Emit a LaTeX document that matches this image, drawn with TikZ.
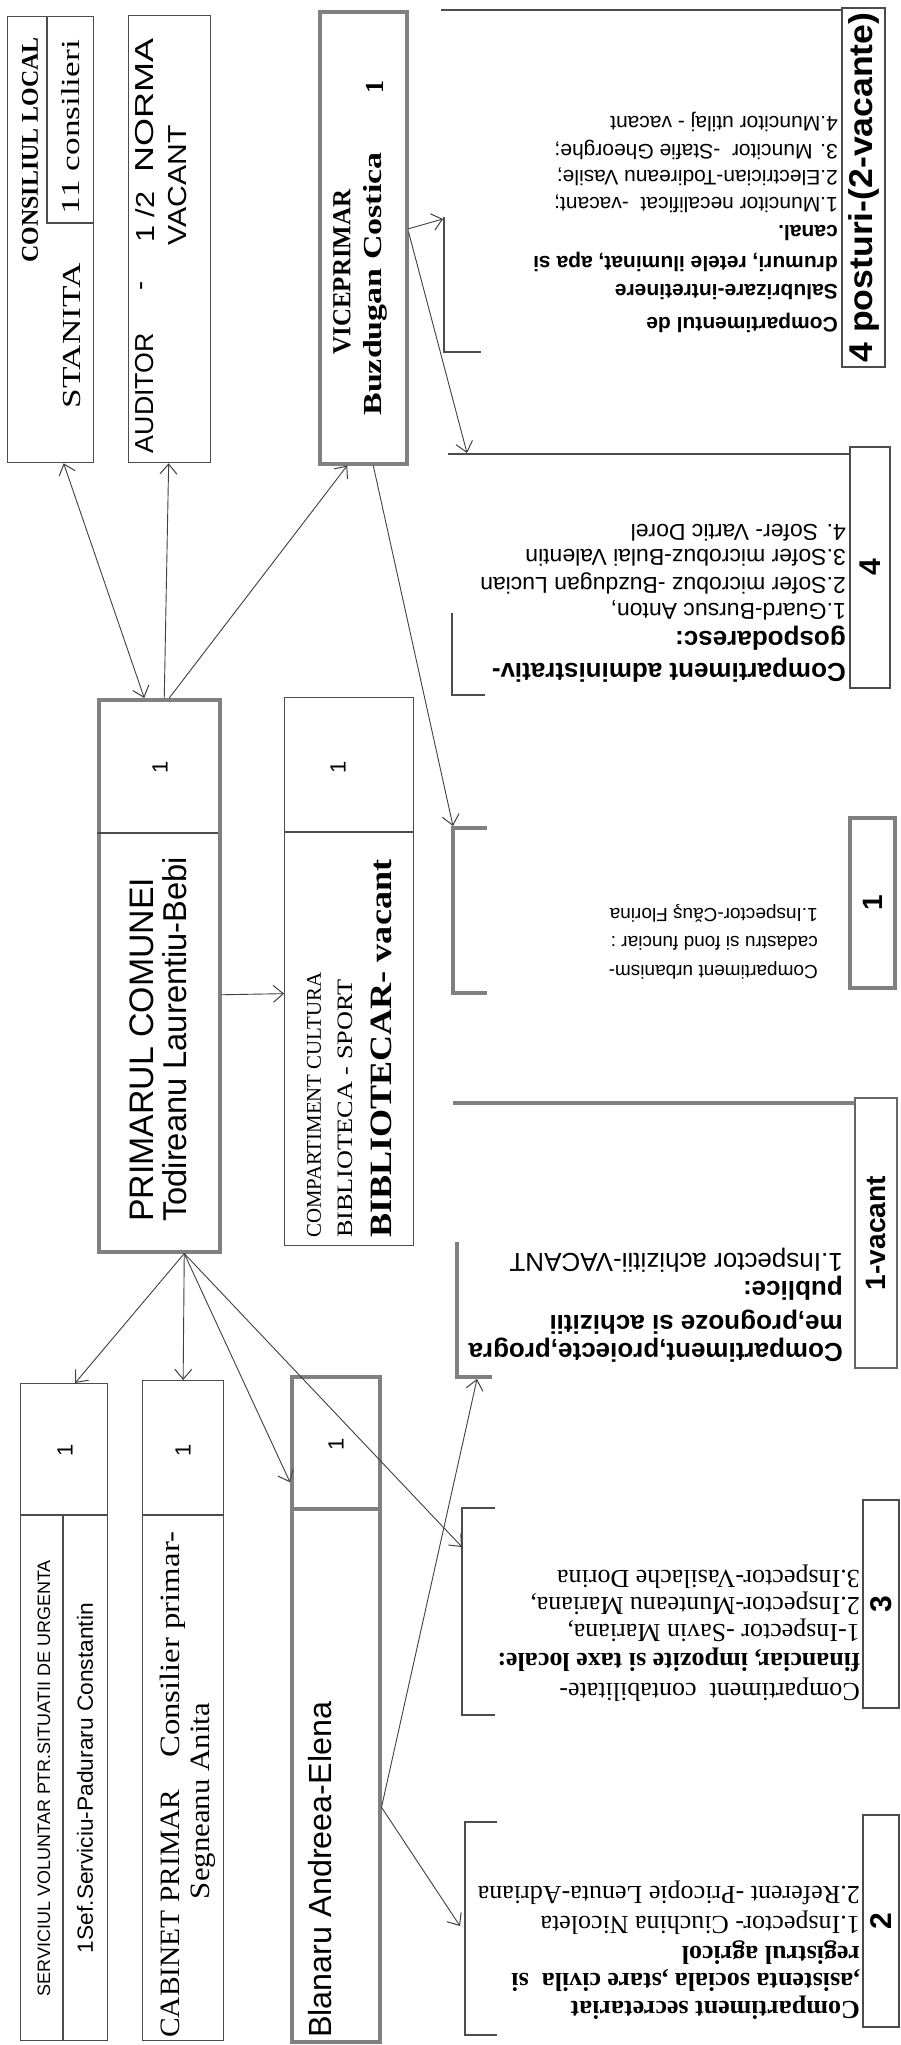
\documentclass[tikz,border=0pt]{standalone}
\usepackage{graphicx}
\usepackage{fontspec}
\setmainfont{Liberation Serif}
\setsansfont{Liberation Sans}
\usetikzlibrary{arrows.meta}
\newcommand{\fs}[1]{\fontsize{#1}{#1}\selectfont}
\newcommand{\fitlen}[2]{\resizebox{#1pt}{\height}{#2}}
\tikzset{
  vhead/.tip={Straight Barb[length=10pt,width=17pt,line width=1pt]},
  box/.style={draw=black!70, line width=1.3, anchor=north west},
  tbox/.style={box, draw=black!50, line width=3.5},
  nbox/.style={draw=black!70, line width=1.3, rotate=90, inner sep=0, font=\sffamily\bfseries\fs{30}},
  arr/.style={draw=black!75, line width=0.9, -vhead},
  brk/.style={draw=black!70, line width=1.4},
  gbrk/.style={draw=black!50, line width=3.2},
  vt/.style={rotate=90, inner sep=0},
  ut/.style={rotate=180, anchor=west, inner sep=0},
}
\begin{document}
\begin{tikzpicture}[x=1pt,y=-1pt]
\useasboundingbox[fill=white] (0,0) rectangle (900,2045);
\node[box, minimum width=86, minimum height=446] (cons) at (7,16) {};
\node[box, minimum width=82, minimum height=447] (aud) at (128,15) {};
\node[tbox, minimum width=87, minimum height=452] (vice) at (318,10) {};
\node[tbox, minimum width=121, minimum height=552] (prim) at (97,698) {};
\node[box, minimum width=129, minimum height=548] (cult) at (284,697) {};
\node[box, minimum width=87, minimum height=657] (serv) at (20,1383) {};
\node[box, minimum width=81, minimum height=660] (cab) at (142,1380) {};
\node[tbox, minimum width=88, minimum height=665] (blan) at (290,1375) {};
\draw[black!70, line width=1.3] (47,16) |- (93,223) (63,1515) -- (63,2040);
\foreach \xa/\xb/\y in {97/218/833, 284/413/832, 20/107/1515, 142/223/1515}
  \draw[black!70, line width=1.3] (\xa,\y) -- (\xb,\y);
\draw[black!50, line width=3.5] (290,1509) -- (378,1509);

\node[vt, font=\bfseries\fs{24}] (consT) at (30,150) {\fitlen{225}{CONSILIUL LOCAL}};
\node[vt, font=\fs{26}] (consS) at (72,336) {\fitlen{145}{STANITA}};
\node[vt, font=\fs{26}] (consN) at (71,127) {\fitlen{174}{11 consilieri}};
\foreach \x/\y/\l/\t [count=\i] in {145/393/120/AUDITOR, 145/286/9/-, 145/217/51/{1 /2},
  145/105/134/NORMA, 178/185/120/VACANT}
  \node[vt, font=\sffamily\fs{26}] (aud\i) at (\x,\y) {\fitlen{\l}{\t}};
\node[vt, font=\bfseries\fs{26}] (viceT) at (342,272) {\fitlen{165}{VICEPRIMAR}};
\node[vt, font=\bfseries\fs{26}] (viceN) at (375,284) {\fitlen{263}{Buzdugan Costica}};
\node[vt, font=\bfseries\fs{26}] (viceP) at (375,87) {1};

\node[vt, anchor=west, font=\sffamily\fs{34}] (primT) at (142,1222) {\fitlen{344}{PRIMARUL COMUNEI}};
\node[vt, anchor=west, font=\sffamily\fs{33}] (primN) at (175,1222) {\fitlen{365}{Todireanu Laurentiu-Bebi}};
\node[vt, anchor=west, font=\fs{21}] (cultA) at (314,1238) {\fitlen{265}{COMPARTIMENT CULTURA}};
\node[vt, anchor=west, font=\fs{22}] (cultB) at (345,1238) {\fitlen{258}{BIBLIOTECA - SPORT}};
\node[vt, anchor=west, font=\bfseries\fs{31}] (cultC) at (381,1238) {\fitlen{378}{BIBLIOTECAR- vacant}};
\node[vt, font=\sffamily\fs{18}] (servA) at (44,1778) {\fitlen{436}{SERVICIUL VOLUNTAR PTR.SITUATII DE URGENTA}};
\node[vt, font=\sffamily\fs{22}] (servB) at (85,1778) {\fitlen{350}{1Sef.Serviciu-Paduraru Constantin}};
\node[vt, anchor=west, font=\fs{28}] (cabA) at (173,2038) {\fitlen{248}{CABINET PRIMAR}\hspace{32pt}\fitlen{226}{Consilier primar-}};
\node[vt, font=\fs{28}] (cabN) at (203,1801) {\fitlen{196}{Segneanu Anita}};
\node[vt, anchor=west, font=\sffamily\fs{32}] (blanN) at (320,2038) {\fitlen{336}{Blanaru Andreea-Elena}};
\foreach \x/\y [count=\i] in {160/767, 338/767, 65/1450, 183/1450, 336/1444}
  \node[vt, font=\sffamily\fs{22}] (one\i) at (\x,\y) {1};

\node[nbox, minimum width=359, minimum height=43, font=\sffamily\bfseries\fs{33}] (nSal) at (863.5,187.5) {\fitlen{350}{4 posturi-(2-vacante)}};
\node[nbox, minimum width=241, minimum height=40] (nAdm) at (870,567.5) {4};
\node[nbox, draw=black!50, line width=3.5, minimum width=170, minimum height=45, font=\sffamily\bfseries\fs{28}] (nUrb) at (872.5,903) {1};
\node[nbox, draw=black!60, line width=2.5, minimum width=270, minimum height=42, font=\sffamily\bfseries\fs{28}] (nPro) at (876,1233) {\fitlen{114}{1-vacant}};
\node[nbox, minimum width=208, minimum height=36] (nCon) at (881,1604) {3};
\node[nbox, minimum width=212, minimum height=36] (nSec) at (881,1921) {2};

\draw[brk] (441,10) -- (842,10) (444,217) -- (444,352) -- (481,352);
\draw[brk] (448,454) -- (850,454) (452,613) -- (452,695) -- (485,695);
\draw[gbrk] (487,828) -- (453,828) -- (453,993) -- (487,993);
\draw[gbrk] (453,1103) -- (855,1103) (457,1242) -- (457,1377) -- (492,1377);
\draw[brk] (495,1508) -- (462,1508) -- (462,1715) -- (495,1715);
\draw[brk] (497,1822) -- (465,1822) -- (465,2035) -- (497,2035);

\foreach \y/\t [count=\i] in {323/\textbf{Compartimentul de}, 292/\textbf{Salubrizare-intretinere},
  262/\textbf{drumuri, retele iluminat, apa si}, 233/\textbf{canal.},
  204/{1.Muncitor necalificat \ -vacant;}, 177/2.Electrician-Todireanu Vasile;,
  150/{3. Muncitor \ -Stafie Gheorghe;}, 122/4.Muncitor utilaj - vacant}
  \node[ut, font=\sffamily\fs{21}] (sal\i) at (838,\y) {\t};
\foreach \y/\s/\t [count=\i] in {670/26/\textbf{Compartiment administrativ-}, 638/26/\textbf{gospodaresc:},
  610/23/{1.Guard-Bursuc Anton,}, 583/23/2.Sofer microbuz -Buzdugan Lucian,
  558/23/3.Sofer microbuz-Bulai Valentin, 533/23/4. Sofer- Vartic Dorel}
  \node[ut, font=\sffamily\fs{\s}] (adm\i) at (846,\y) {\t};
\foreach \y/\t [count=\i] in {970/Compartiment urbanism-, 943/cadastru si fond funciar :,
  913/1.Inspector-Căuş Florina}
  \node[ut, font=\sffamily\fs{19}] (urb\i) at (818,\y) {\t};
\foreach \y/\t [count=\i] in {1350/\textbf{Compartiment{,}proiecte{,}progra}, 1322/\textbf{me{,}prognoze si achizitii},
  1288/\textbf{publice:}, 1260/1.Inspector achizitii-VACANT}
  \node[ut, font=\sffamily\fs{26}] (pro\i) at (843,\y) {\t};
\foreach \y/\t [count=\i] in {1690/{Compartiment \ contabilitate-}, 1660/\textbf{financiar{,} impozite si taxe locale:},
  1630/{1-Inspector -Savin Mariana,}, 1603/{2.Inspector-Munteanu Mariana,}, 1577/3.Inspector-Vasilache Dorina}
  \node[ut, font=\fs{26}] (con\i) at (860,\y) {\t};
\foreach \y/\t [count=\i] in {2008/\textbf{Compartiment secretariat}, 1980/\textbf{{,}asistenta sociala {,}stare civila \ si},
  1953/\textbf{registrul agricol}, 1923/1.Inspector- Ciuchina Nicoleta, 1893/2.Referent -Pricopie Lenuta-Adriana}
  \node[ut, font=\fs{26}] (sec\i) at (860,\y) {\t};

\coordinate (tSal) at (443,219);
\coordinate (tAdm) at (467,453);
\coordinate (tUrb) at (453,826);
\coordinate (tPro) at (477,1379);
\coordinate (tCon) at (462,1547);
\coordinate (tSec) at (460,1926);
\draw[arr, vhead-vhead] ([xshift=-15pt]prim.north) -- ([xshift=13pt]cons.south);
\draw[arr] ([xshift=5pt]prim.north) -- ([xshift=-1pt]aud.south);
\draw[arr] ([xshift=10pt]prim.north) -- ([xshift=-16pt]vice.south);
\draw[arr] ([yshift=-19pt]prim.east) -- ([yshift=-22pt]cult.west);
\draw[arr] ([xshift=25pt]prim.south) -- ([xshift=11pt]serv.north);
\draw[arr] ([xshift=25pt]prim.south) -- (cab.north);
\draw[arr] ([xshift=25pt]prim.south) -- ([yshift=227pt]blan.west);
\draw[arr] ([xshift=25pt]prim.south) -- (tCon);
\draw[arr] ([yshift=9pt]vice.east) -- (tSal);
\draw[arr] ([yshift=6pt]vice.east) -- (tAdm);
\draw[arr] ([xshift=10pt]vice.south) -- (tUrb);
\draw[arr] ([yshift=-98pt]blan.east) -- (tPro);
\draw[arr] ([yshift=-98pt]blan.east) -- (tSec);
\end{tikzpicture}
\end{document}
